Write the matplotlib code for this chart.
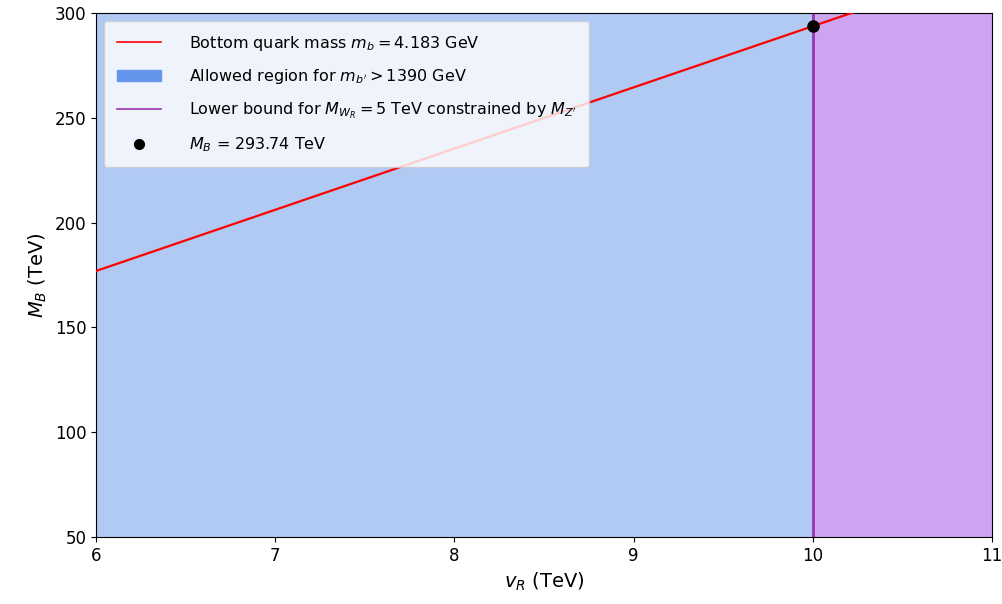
import matplotlib
matplotlib.use("Agg")
import matplotlib.pyplot as plt
from matplotlib.patches import Patch
from matplotlib.lines import Line2D

# axis ranges (TeV)
v_r_range = [6, 11]
m_b_range = [50, 300]

# bottom quark mass line, M_B vs v_R
v_r_line = [6, 11]
m_b_line = [176.9, 322.9]

# lower bound on v_R and the intersection point
v_r_bound = 10
m_b_point = 293.74

fig = plt.figure(figsize=(10.02, 6.04), dpi=100)
ax = fig.add_axes([0.0958, 0.111, 0.8942, 0.8675])

# allowed region (whole plane) and the excluded part right of the bound
ax.axvspan(v_r_range[0], v_r_range[1], color='#b0caf4', zorder=0)
ax.axvspan(v_r_bound, v_r_range[1], color='#cda4f0', zorder=1)

ax.plot(v_r_line, m_b_line, color='red', lw=1.6, zorder=3)
ax.axvline(v_r_bound, color='#9a35b0', lw=2, zorder=2)
ax.plot([v_r_bound], [m_b_point], 'o', color='black', ms=8, zorder=4)

ax.set_xlim(v_r_range)
ax.set_ylim(m_b_range)
ax.tick_params(labelsize=12)
ax.set_xlabel(r'$v_R$ (TeV)', fontsize=14)
ax.set_ylabel(r'$M_B$ (TeV)', fontsize=14)

handles = [
    Line2D([], [], color='red', lw=1.2),
    Patch(color='cornflowerblue'),
    Line2D([], [], color='#9a35b0', lw=1.2),
    Line2D([], [], marker='o', color='black', ls='none', ms=7),
]
labels = [
    r'Bottom quark mass $m_b = 4.183$ GeV',
    r"Allowed region for $m_{b'} > 1390$ GeV",
    r"Lower bound for $M_{W_R} = 5$ TeV constrained by $M_{Z'}$",
    r'$M_B$ = 293.74 TeV',
]
ax.legend(handles, labels, loc='upper left', fontsize=11.5, handlelength=2.8,
          handletextpad=1.7, labelspacing=0.9, borderpad=0.8,
          borderaxespad=0.5)

fig.savefig('out.png', dpi=100)
